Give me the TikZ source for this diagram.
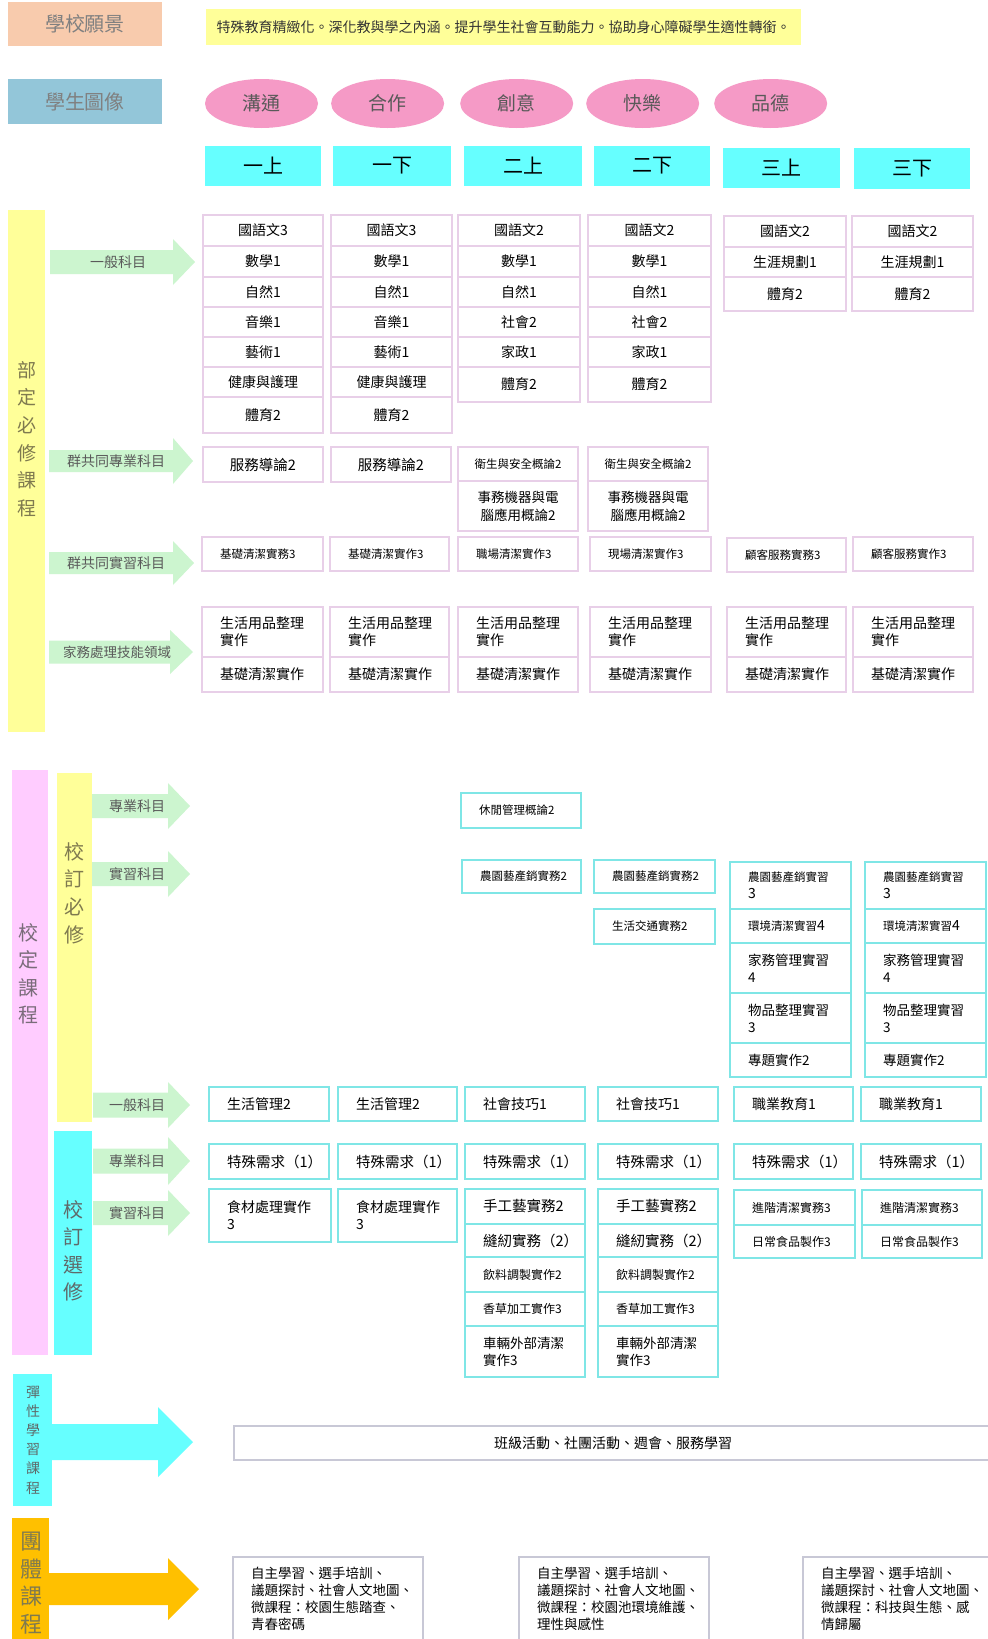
\documentclass[tikz,border=0pt]{standalone}
\usepackage{fontspec}
\setmainfont{Noto Sans CJK TC}
\usetikzlibrary{shapes.geometric}
\definecolor{peach}{HTML}{F8CBAD}
\definecolor{visiony}{HTML}{FFFF99}
\definecolor{steel}{HTML}{93C6D9}
\definecolor{pinkc}{HTML}{F59AC6}
\definecolor{cyanc}{HTML}{66FFFF}
\definecolor{barY}{HTML}{FFFF99}
\definecolor{mint}{HTML}{CCF5CF}
\definecolor{barP}{HTML}{FFCCFF}
\definecolor{orangec}{HTML}{FFC000}
\definecolor{bdA}{HTML}{E8CFE8}
\definecolor{bdB}{HTML}{7FE6E6}
\definecolor{bdC}{HTML}{C8C8D6}
\definecolor{txtO}{HTML}{7F7A4F}
\definecolor{txtP}{HTML}{7A6C7A}
\definecolor{txtG}{HTML}{5F6A6A}
\definecolor{lbl}{HTML}{5A5A5A}
\newcommand\fsz[2]{\fontsize{#1}{#2}\selectfont}
% #1 style, #2 name, #3 x1, #4 y1, #5 x2, #6 y2, #7 text
\newcommand\cbox[7]{\node[#1, minimum width={(#5)-(#3)}, minimum height={(#6)-(#4)}] (#2) at ({((#3)+(#5))/2},{((#4)+(#6))/2}) {#7};}
\newcommand\lbox[7]{\pgfmathsetmacro\myTW{(#5)-(#3)-36}\node[#1, text width=\myTW pt, inner xsep=18pt, inner ysep=0pt, minimum height={(#6)-(#4)}] (#2) at ({((#3)+(#5))/2},{((#4)+(#6))/2}) {#7};}
% color, x0, xh, x1, yc, s, h
\newcommand\fatarrow[7]{\fill[#1] (#2,#5-#6) -- (#3,#5-#6) -- (#3,#5-#7) -- (#4,#5) -- (#3,#5+#7) -- (#3,#5+#6) -- (#2,#5+#6) -- cycle;}
\begin{document}
\begin{tikzpicture}[x=1pt,y=-1pt,
  hdr/.style={inner sep=0pt, font=\fsz{20}{24}, text=gray},
  vbox/.style={fill=visiony, inner sep=0pt, font=\fsz{14}{16}, text=black!80},
  ell/.style={ellipse, fill=pinkc, minimum width=113, minimum height=49, inner sep=0pt, font=\fsz{19}{22}, text=black!65},
  sem/.style={fill=cyanc, inner sep=0pt, font=\fsz{20}{24}, text=black},
  vtext/.style={align=center, inner sep=0pt},
  albl/.style={inner sep=0pt, text=lbl, font=\fsz{14}{16}},
  cellA/.style={draw=bdA, line width=1.1pt, align=center, inner sep=0pt, font=\fsz{14}{18}},
  cellAl/.style={draw=bdA, line width=1.1pt, align=left, font=\fsz{14}{17}},
  cellB/.style={draw=bdB, line width=1.3pt, align=left, font=\fsz{14}{17}},
  cellC/.style={draw=bdC, line width=1.1pt, align=left, font=\fsz{13.5}{17}},
  cellCc/.style={draw=bdC, line width=1.1pt, align=center, inner sep=0pt, font=\fsz{14}{17}}
]
\useasboundingbox (0,0) rectangle (988,1639);
\fill[white] (0,0) rectangle (988,1639);

% ---------------- header
\cbox{hdr, fill=peach}{visionlbl}{8}{2}{162}{46}{學校願景}
\cbox{vbox}{vision}{206}{9}{801}{45}{特殊教育精緻化。深化教與學之內涵。提升學生社會互動能力。協助身心障礙學生適性轉銜。}
\cbox{hdr, fill=steel}{portraitlbl}{8}{79}{162}{124}{學生圖像}
\node[ell] (e1) at (261.5,103.5) {溝通};
\node[ell] (e2) at (387.6,103.5) {合作};
\node[ell] (e3) at (516.7,103.5) {創意};
\node[ell] (e4) at (642.7,103.5) {快樂};
\node[ell] (e5) at (770.7,103.5) {品德};
\cbox{sem}{s1}{205}{146}{321}{186}{一上}
\cbox{sem}{s2}{333}{146}{451}{186}{一下}
\cbox{sem}{s3}{464}{146}{582}{186}{二上}
\cbox{sem}{s4}{594}{146}{710}{186}{二下}
\cbox{sem}{s5}{723}{148}{840}{188}{三上}
\cbox{sem}{s6}{854}{148}{970}{189}{三下}

% ---------------- 部定必修課程
\fill[barY] (8,210) rectangle (45,732);
\node[vtext, text=txtO, font=\fsz{19}{27.6}] (bd) at (27,439) {部\\定\\必\\修\\課\\程};
\fatarrow{mint}{50}{173}{195}{262}{12}{23}
\node[albl] (la1) at (118,262) {一般科目};
\fatarrow{mint}{49}{173}{193}{461}{11}{23}
\node[albl] (la2) at (116,461) {群共同專業科目};
\fatarrow{mint}{49}{173}{194}{563}{11}{22}
\node[albl] (la3) at (116,563) {群共同實習科目};
\fatarrow{mint}{49}{170}{193}{652}{11.5}{22}
\node[albl, font=\fsz{13.5}{16}] (la4) at (117,652) {家務處理技能領域};

% 一般科目 grid
\foreach \xa/\xb/\c in {203/323/1, 331/452/2} {
  \foreach \ya/\yb/\t [count=\i] in {215/246/國語文3, 246/277/數學1, 277/307/自然1, 307/337/音樂1, 337/367/藝術1, 367/397/健康與護理, 397/433/體育2}
    {\cbox{cellA}{g\c\i}{\xa}{\ya}{\xb}{\yb}{\t}}
}
\foreach \xa/\xb/\c in {458/580/3, 588/711/4} {
  \foreach \ya/\yb/\t [count=\i] in {215/246/國語文2, 246/277/數學1, 277/307/自然1, 307/337/社會2, 337/367/家政1, 367/402/體育2}
    {\cbox{cellA}{g\c\i}{\xa}{\ya}{\xb}{\yb}{\t}}
}
\foreach \xa/\xb/\c in {724/846/5, 852/973/6} {
  \foreach \ya/\yb/\t [count=\i] in {216/247/國語文2, 247/277/生涯規劃1, 277/311/體育2}
    {\cbox{cellA}{g\c\i}{\xa}{\ya}{\xb}{\yb}{\t}}
}
% 群共同專業科目
\cbox{cellA, font=\fsz{14.5}{18}}{h1}{203}{447}{323}{482}{服務導論2}
\cbox{cellA, font=\fsz{14.5}{18}}{h2}{331}{447}{451}{482}{服務導論2}
\cbox{cellA, font=\fsz{11.5}{14}}{h3a}{458}{447}{578}{481}{衛生與安全概論2}
\cbox{cellA, font=\fsz{13.5}{18}}{h3b}{458}{481}{578}{531}{事務機器與電\\腦應用概論2}
\cbox{cellA, font=\fsz{11.5}{14}}{h4a}{588}{447}{708}{481}{衛生與安全概論2}
\cbox{cellA, font=\fsz{13.5}{18}}{h4b}{588}{481}{708}{531}{事務機器與電\\腦應用概論2}
% 群共同實習科目
\lbox{cellAl, font=\fsz{11.5}{14}}{k1}{202}{537}{323}{571}{基礎清潔實務3}
\lbox{cellAl, font=\fsz{11.5}{14}}{k2}{330}{537}{449}{571}{基礎清潔實作3}
\lbox{cellAl, font=\fsz{11.5}{14}}{k3}{458}{537}{578}{571}{職場清潔實作3}
\lbox{cellAl, font=\fsz{11.5}{14}}{k4}{590}{537}{711}{571}{現場清潔實作3}
\lbox{cellAl, font=\fsz{11.5}{14}}{k5}{727}{538}{846}{572}{顧客服務實務3}
\lbox{cellAl, font=\fsz{11.5}{14}}{k6}{853}{537}{973}{571}{顧客服務實作3}
% 家務處理技能領域
\foreach \xa/\xb/\c in {202/323/1, 330/449/2, 458/578/3, 590/711/4, 727/846/5, 853/973/6} {
  \lbox{cellAl}{m\c a}{\xa}{607}{\xb}{657}{生活用品整理\\實作}
  \lbox{cellAl}{m\c b}{\xa}{657}{\xb}{692}{基礎清潔實作}
}

% ---------------- 校定課程
\fill[barP] (12,770) rectangle (48,1355);
\node[vtext, text=txtP, font=\fsz{20}{27.4}] (xd) at (29,974) {校\\定\\課\\程};
\fill[barY] (57,773) rectangle (92,1122);
\node[vtext, text=txtO, font=\fsz{20}{27.6}] (xb) at (74,893) {校\\訂\\必\\修};
\fill[cyanc] (54,1131) rectangle (92,1355);
\node[vtext, text=txtG, font=\fsz{20}{27.4}] (xx) at (73,1251) {校\\訂\\選\\修};

\fatarrow{mint}{92}{168}{190}{806}{12}{23}
\node[albl] (lb1) at (137,806) {專業科目};
\fatarrow{mint}{92}{168}{190}{874}{12}{23}
\node[albl] (lb2) at (137,874) {實習科目};
\fatarrow{mint}{93}{168}{190}{1105}{12.5}{23}
\node[albl] (lb3) at (137,1105) {一般科目};
\fatarrow{mint}{93}{168}{190}{1161}{12.5}{24}
\node[albl] (lb4) at (137,1161) {專業科目};
\fatarrow{mint}{93}{168}{190}{1213}{12}{23}
\node[albl] (lb5) at (137,1213) {實習科目};

% 校訂必修 boxes
\lbox{cellB, font=\fsz{11.5}{14}}{p3}{461}{793}{581}{828}{休閒管理概論2}
\lbox{cellB, font=\fsz{11.5}{14}}{q3}{462}{860}{581}{893}{農園藝產銷實務2}
\lbox{cellB, font=\fsz{11.5}{14}}{q4a}{594}{860}{715}{893}{農園藝產銷實務2}
\lbox{cellB, font=\fsz{11.5}{14}}{q4b}{594}{909}{715}{944}{生活交通實務2}
\foreach \xa/\xb/\c in {730/851/5, 865/986/6} {
  \lbox{cellB}{q\c a}{\xa}{862}{\xb}{909}{{\fsz{11.5}{17}農園藝產銷實習}\\3}
  \lbox{cellB}{q\c b}{\xa}{909}{\xb}{943}{{\fsz{11.5}{17}環境清潔實習}4}
  \lbox{cellB, font=\fsz{13.5}{17}}{q\c c}{\xa}{943}{\xb}{993}{家務管理實習\\4}
  \lbox{cellB, font=\fsz{13.5}{17}}{q\c d}{\xa}{993}{\xb}{1043}{物品整理實習\\3}
  \lbox{cellB, font=\fsz{13.5}{17}}{q\c e}{\xa}{1043}{\xb}{1077}{專題實作2}
}
% 一般科目
\foreach \xa/\xb/\t [count=\i] in {209/329/生活管理2, 338/457/生活管理2, 465/585/社會技巧1, 598/718/社會技巧1, 734/853/職業教育1, 861/981/職業教育1}
  {\lbox{cellB}{r\i}{\xa}{1087}{\xb}{1121}{\t}}
% 校訂選修 專業科目
\foreach \xa/\xb [count=\i] in {209/329, 338/457, 465/585, 598/718, 734/853, 861/981}
  {\lbox{cellB, font=\fsz{14.5}{17}}{u\i}{\xa}{1144}{\xb}{1179}{特殊需求（1）}}
% 校訂選修 實習科目
\lbox{cellB}{w1}{209}{1189}{331}{1242}{食材處理實作\\3}
\lbox{cellB}{w2}{338}{1189}{457}{1242}{食材處理實作\\3}
\foreach \xa/\xb/\c in {465/585/3, 598/718/4} {
  \lbox{cellB, font=\fsz{14.5}{17}}{w\c a}{\xa}{1189}{\xb}{1224}{手工藝實務2}
  \lbox{cellB, font=\fsz{14.5}{17}}{w\c b}{\xa}{1224}{\xb}{1257}{縫紉實務（2）}
  \lbox{cellB, font=\fsz{12}{15}}{w\c c}{\xa}{1257}{\xb}{1292}{飲料調製實作2}
  \lbox{cellB, font=\fsz{12}{15}}{w\c d}{\xa}{1292}{\xb}{1326}{香草加工實作3}
  \lbox{cellB, font=\fsz{13.5}{17}}{w\c e}{\xa}{1326}{\xb}{1377}{車輛外部清潔\\實作3}
}
\foreach \xa/\xb/\c in {734/855/5, 862/982/6} {
  \lbox{cellB, font=\fsz{12}{15}}{w\c a}{\xa}{1190}{\xb}{1225}{進階清潔實務3}
  \lbox{cellB, font=\fsz{12}{15}}{w\c b}{\xa}{1225}{\xb}{1258}{日常食品製作3}
}

% ---------------- 彈性學習課程
\fill[cyanc] (13,1374) rectangle (52,1506);
\node[vtext, text=txtG, font=\fsz{14}{19.2}] (tx) at (33,1440) {彈\\性\\學\\習\\課\\程};
\fatarrow{cyanc}{52}{158}{193}{1442}{18}{35}
\cbox{cellCc}{flex}{234}{1426}{992}{1460}{班級活動、社團活動、週會、服務學習}

% ---------------- 團體課程
\fill[orangec] (12,1518) rectangle (49,1641);
\node[vtext, text=txtO, font=\fsz{22}{27.7}] (tt) at (31,1583) {團\\體\\課\\程};
\fatarrow{orangec}{49}{168}{199}{1589}{16}{31}
\lbox{cellC}{z1}{233}{1557}{423}{1641}{自主學習、選手培訓、\\議題探討、社會人文地圖、\\微課程：校園生態踏查、\\青春密碼}
\lbox{cellC}{z2}{519}{1557}{709}{1641}{自主學習、選手培訓、\\議題探討、社會人文地圖、\\微課程：校園池環境維護、\\理性與感性}
\lbox{cellC}{z3}{803}{1557}{995}{1641}{自主學習、選手培訓、\\議題探討、社會人文地圖、\\微課程：科技與生態、感\\情歸屬}
\end{tikzpicture}
\end{document}
